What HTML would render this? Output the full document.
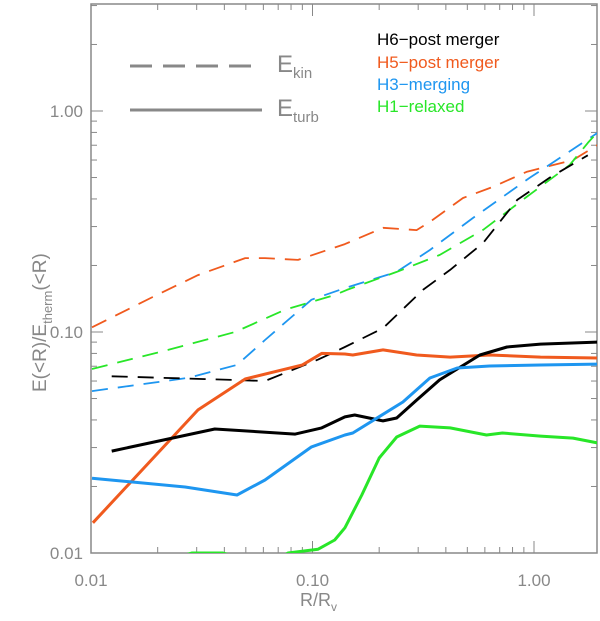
<!DOCTYPE html>
<html><head><meta charset="utf-8"><style>
body{margin:0;background:#fff;}
svg text{font-family:"Liberation Sans",sans-serif;}
</style></head><body>
<svg id="chart" width="600" height="616" viewBox="0 0 600 616" xmlns="http://www.w3.org/2000/svg">
<defs><clipPath id="pc"><rect x="91" y="4" width="506" height="549"/></clipPath></defs>
<g id="axes"></g>
<g id="series" clip-path="url(#pc)"></g>
<g>
<line x1="130" y1="66" x2="252" y2="66" stroke="#888" stroke-width="3" stroke-dasharray="22,11"/>
<text x="277" y="72" font-size="24" fill="#888">E<tspan font-size="15" dy="6">kin</tspan></text>
<line x1="130" y1="110" x2="262" y2="110" stroke="#888" stroke-width="3"/>
<text x="277" y="116" font-size="24" fill="#888">E<tspan font-size="15" dy="6">turb</tspan></text>
<text x="377" y="45" font-size="17" fill="#000">H6−post merger</text>
<text x="377" y="68" font-size="17" fill="#f05a1e">H5−post merger</text>
<text x="377" y="90" font-size="17" fill="#1e96f0">H3−merging</text>
<text x="377" y="112" font-size="17" fill="#28e628">H1−relaxed</text>
</g>
<text x="300" y="606" font-size="18" fill="#888">R/R<tspan font-size="12" dy="5">v</tspan></text>
<text transform="translate(46,392) rotate(-90)" font-size="19" fill="#888">E(&lt;R)/E<tspan font-size="13" dy="6">therm</tspan><tspan dy="-6">(&lt;R)</tspan></text>
</svg>
<script>
const xTicks=[0.01,0.1,1];
const xTickLabels=["0.01","0.10","1.00"];
const yTicks=[0.01,0.1,1];
const yTickLabels=["0.01","0.10","1.00"];

const h5KinX=[0.0101,0.019,0.0304,0.0497,0.061,0.086,0.14,0.208,0.295,0.339,0.478,0.65,0.925,1.5,1.93];
const h5KinY=[0.105,0.144,0.181,0.216,0.216,0.212,0.25,0.296,0.289,0.315,0.404,0.453,0.53,0.60,0.70];
const h3KinX=[0.0101,0.0274,0.0456,0.061,0.099,0.14,0.24,0.339,0.53,0.96,1.41,1.93];
const h3KinY=[0.054,0.062,0.071,0.092,0.14,0.158,0.187,0.235,0.328,0.50,0.645,0.795];
const h1KinX=[0.0101,0.0223,0.0447,0.075,0.126,0.143,0.24,0.375,0.59,0.925,1.45,1.75,1.93];
const h1KinY=[0.068,0.083,0.10,0.126,0.147,0.155,0.187,0.223,0.29,0.408,0.57,0.717,0.80];
const h6KinX=[0.0124,0.0433,0.061,0.106,0.14,0.208,0.315,0.418,0.59,0.84,1.18,1.75];
const h6KinY=[0.063,0.0607,0.060,0.075,0.0855,0.104,0.155,0.191,0.253,0.396,0.50,0.63];

const h5TurbX=[0.0102,0.0304,0.0497,0.09,0.11,0.14,0.152,0.208,0.295,0.418,0.63,1.07,1.93];
const h5TurbY=[0.0137,0.0444,0.0613,0.071,0.080,0.0795,0.0787,0.083,0.0787,0.077,0.0787,0.077,0.0763];
const h6TurbX=[0.0124,0.0362,0.0835,0.11,0.14,0.155,0.208,0.24,0.295,0.375,0.57,0.755,1.07,1.93];
const h6TurbY=[0.0289,0.0364,0.0345,0.0368,0.0413,0.0421,0.0396,0.0408,0.0492,0.0607,0.0787,0.0855,0.0882,0.090];
const h3TurbX=[0.0101,0.0266,0.0456,0.061,0.099,0.14,0.152,0.256,0.339,0.45,0.63,1.07,1.93];
const h3TurbY=[0.0218,0.0199,0.0183,0.0214,0.0302,0.0342,0.0349,0.0482,0.0619,0.0687,0.0702,0.0709,0.0716];
const h1TurbX=[0.024,0.0286,0.0394,0.045,0.06,0.0775,0.106,0.126,0.14,0.167,0.20,0.24,0.305,0.418,0.61,0.72,1.07,1.5,1.93];
const h1TurbY=[0.0095,0.01,0.01,0.0096,0.0085,0.01,0.0104,0.01145,0.013,0.0183,0.0269,0.0335,0.0375,0.0368,0.0342,0.0349,0.0338,0.0331,0.0315];

const X0=91,X1=597,Y0=553,Y1=4,DX=221.5,DY=221;
function xs(v){return X0+(Math.log10(v)+2)*DX;}
function ys(v){return Y0-(Math.log10(v)+2)*DY;}
const NS="http://www.w3.org/2000/svg";
const axes=document.getElementById('axes');
const ser=document.getElementById('series');
function mk(tag,attrs,parent){const e=document.createElementNS(NS,tag);for(const k in attrs)e.setAttribute(k,attrs[k]);parent.appendChild(e);return e;}

const frame=mk('rect',{x:X0,y:Y1,width:X1-X0,height:Y0-Y1,fill:'none',stroke:'#888','stroke-width':1.5},axes);



const xmaxLog=Math.log10(1.93);
for(let d=-2;d<=0;d++){for(let m=1;m<=9;m++){const v=m*Math.pow(10,d);if(Math.log10(v)>xmaxLog)continue;const x=xs(v);const L=m===1?12:6;
const t1=mk('line',{x1:x,y1:Y0,x2:x,y2:Y0-L,stroke:'#888','stroke-width':1},axes);


const t2=mk('line',{x1:x,y1:Y1,x2:x,y2:Y1+L,stroke:'#888','stroke-width':1},axes);

}}
for(let d=-2;d<=0;d++){for(let m=1;m<=9;m++){const v=m*Math.pow(10,d);if(v>3)continue;const y=ys(v);const L=m===1?12:6;
const t1=mk('line',{x1:X0,y1:y,x2:X0+L,y2:y,stroke:'#888','stroke-width':1},axes);


const t2=mk('line',{x1:X1,y1:y,x2:X1-L,y2:y,stroke:'#888','stroke-width':1},axes);

}}
xTicks.forEach((v,i)=>{const t=mk('text',{x:xs(v),y:Y0+33,'text-anchor':'middle','font-size':17,fill:'#888'},axes);t.textContent=xTickLabels[i];

});
yTicks.forEach((v,i)=>{const t=mk('text',{x:X0-8,y:ys(v)+6,'text-anchor':'end','font-size':17,fill:'#888'},axes);t.textContent=yTickLabels[i];

});

function line(xa,ya,color,dash,name,w){const d=xa.map((v,i)=>(i?'L':'M')+xs(v).toFixed(1)+','+ys(ya[i]).toFixed(1)).join(' ');
const p=mk('path',{d:d,fill:'none',stroke:color,'stroke-width':w,'stroke-linejoin':'round'},ser);if(dash)p.setAttribute('stroke-dasharray',dash);

}
line(h5KinX,h5KinY,'#f05a1e','16,10','h5-ekin-line',1.8);
line(h3KinX,h3KinY,'#1e96f0','16,10','h3-ekin-line',1.8);
line(h1KinX,h1KinY,'#28e628','16,10','h1-ekin-line',1.8);
line(h6KinX,h6KinY,'#000','16,10','h6-ekin-line',1.8);
line(h5TurbX,h5TurbY,'#f05a1e',null,'h5-eturb-line',3);
line(h6TurbX,h6TurbY,'#000',null,'h6-eturb-line',3);
line(h3TurbX,h3TurbY,'#1e96f0',null,'h3-eturb-line',3);
line(h1TurbX,h1TurbY,'#28e628',null,'h1-eturb-line',3);
</script>
</body></html>
